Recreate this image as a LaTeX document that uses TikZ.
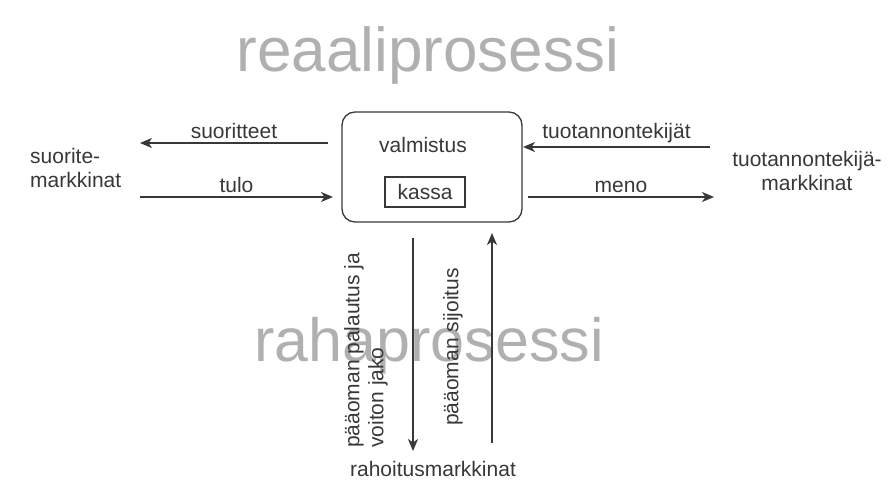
\documentclass[tikz,border=0pt]{standalone}
\usepackage{fontspec}
\setmainfont{Liberation Sans}
\usetikzlibrary{arrows.meta}
\definecolor{ink}{HTML}{383838}
\definecolor{ghost}{HTML}{B0B0B0}
\tikzset{
  lbl/.style={text=ink, font=\fontsize{21}{24}\selectfont, inner sep=1pt},
  bigtxt/.style={text=ghost, inner sep=0pt},
  arr/.style={draw=ink, line width=1.6pt, -{Stealth[length=12pt,width=10pt,inset=3.5pt]}},
}
\begin{document}
\begin{tikzpicture}[x=1pt,y=-1pt]
\useasboundingbox (0,0) rectangle (888,481);
\node[bigtxt, font=\fontsize{62}{66}\selectfont] (rt) at (428,55) {reaaliprosessi};
\node[bigtxt, font=\fontsize{61}{66}\selectfont] (rp) at (429,346) {rahaprosessi};

\node[draw=ink, line width=1.3pt, rounded corners=13pt, minimum width=180pt, minimum height=110pt, inner sep=0pt] (box) at (432,167) {};
\node[lbl] (valm) at (423,145) {valmistus};
\node[draw=ink, line width=1.1pt, lbl, minimum width=80pt, minimum height=30pt, inner sep=0pt] (kassa) at (425,192) {kassa};

\node[lbl, align=left, anchor=west] (sm) at (29,168) {suorite-\\markkinat};
\node[lbl, align=center] (tm) at (807,171) {tuotannontekijä-\\markkinat};
\node[lbl] (rm) at (433,469) {rahoitusmarkkinat};

\coordinate (s1) at (328,143); \coordinate (s2) at (140,143);
\coordinate (t1) at (140,197); \coordinate (t2) at (333,197);
\coordinate (u1) at (710,147); \coordinate (u2) at (523,147);
\coordinate (m1) at (528,197); \coordinate (m2) at (714,197);
\coordinate (d1) at (413,238); \coordinate (d2) at (413,451);
\coordinate (p1) at (492,443); \coordinate (p2) at (492,233);

\draw[arr] (s1) -- node[lbl, above=2pt] {suoritteet} (s2);
\draw[arr] (t1) -- node[lbl, above=2pt] {tulo} (t2);
\draw[arr] (u1) -- node[lbl, above=2pt] {tuotannontekijät} (u2);
\draw[arr] (m1) -- node[lbl, above=2pt] {meno} (m2);
\draw[arr] (d1) -- (d2);
\draw[arr] (p1) -- (p2);

\node[lbl, rotate=90, align=left, anchor=west, inner sep=0pt] (pl) at (366,448) {pääoman palautus ja\\voiton jako};
\node[lbl, rotate=90, inner sep=0pt] (ps) at (453,347) {pääoman sijoitus};
\end{tikzpicture}
\end{document}
